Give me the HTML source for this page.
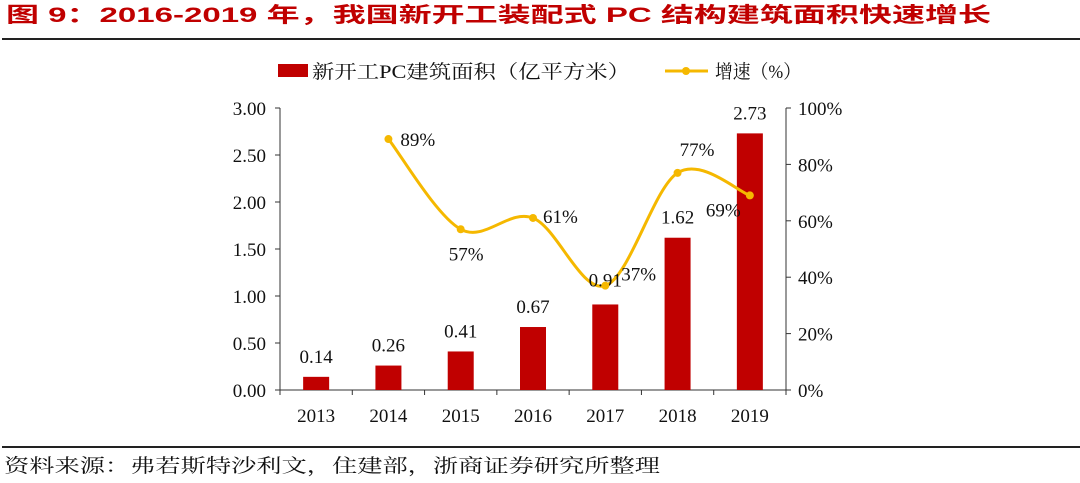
<!DOCTYPE html>
<html><head><meta charset="utf-8"><style>
body{margin:0;width:1080px;height:483px;background:#fff;overflow:hidden;}
svg{display:block}
</style></head><body>
<svg id="c" width="1080" height="483">
<text x="6" y="22" textLength="985" lengthAdjust="spacingAndGlyphs" font-family="Liberation Sans, Noto Sans CJK SC, sans-serif" font-weight="bold" font-size="21" fill="#c00000">图 9：2016-2019 年，我国新开工装配式 PC 结构建筑面积快速增长</text>
<line x1="2" y1="39" x2="1080" y2="39" stroke="#222" stroke-width="2"/>
<rect x="278" y="64" width="30" height="13" fill="#c00000"/>
<text x="312" y="78" textLength="318" lengthAdjust="spacingAndGlyphs" font-family="Liberation Serif, Noto Serif CJK SC, serif" font-size="19" fill="#111">新开工PC建筑面积（亿平方米）</text>
<line x1="665" y1="71" x2="708" y2="71" stroke="#f5b800" stroke-width="3"/>
<circle cx="686" cy="71" r="4" fill="#f5b800"/>
<text x="715" y="78" textLength="86" lengthAdjust="spacingAndGlyphs" font-family="Liberation Serif, Noto Serif CJK SC, serif" font-size="19" fill="#111">增速（%）</text>
<line x1="2" y1="447" x2="1080" y2="447" stroke="#222" stroke-width="2"/>
<text x="4" y="472" textLength="656" lengthAdjust="spacingAndGlyphs" font-family="Liberation Serif, Noto Serif CJK SC, serif" font-size="19" fill="#111">资料来源：弗若斯特沙利文，住建部，浙商证券研究所整理</text>
<g id="plot"></g>
</svg>
<script>
const years=["2013","2014","2015","2016","2017","2018","2019"];
const area=[0.14,0.26,0.41,0.67,0.91,1.62,2.73];
const areaLabels=["0.14","0.26","0.41","0.67","0.91","1.62","2.73"];
const growth=[null,89,57,61,37,77,69];
const leftTicks=[0,0.5,1,1.5,2,2.5,3];
const rightTicks=[0,20,40,60,80,100];
const NS="http://www.w3.org/2000/svg";
const g=document.getElementById('plot');
const X0=280,X1=786,Y0=390,YT=108;
const bw=(X1-X0)/years.length;
const xc=i=>X0+bw*(i+0.5);
const yl=v=>Y0-(v/3)*(Y0-YT);
const yr=v=>Y0-(v/100)*(Y0-YT);
function el(t,a,txt){const e=document.createElementNS(NS,t);for(const k in a)e.setAttribute(k,a[k]);if(txt!=null)e.textContent=txt;g.appendChild(e);return e;}
const F="Liberation Serif, Noto Serif CJK SC, serif";
let e;
e=el('line',{x1:X0,y1:YT,x2:X0,y2:Y0,stroke:'#333'});


e=el('line',{x1:X1,y1:YT,x2:X1,y2:Y0,stroke:'#333'});


e=el('line',{x1:X0,y1:Y0,x2:X1,y2:Y0,stroke:'#333'});


leftTicks.forEach(v=>{const y=yl(v);
 el('line',{x1:X0-5,y1:y,x2:X0,y2:y,stroke:'#333'});
 e=el('text',{x:X0-14,y:y+7,'text-anchor':'end','font-family':F,'font-size':19,fill:'#111'},v.toFixed(2));
 
 });
rightTicks.forEach(v=>{const y=yr(v);
 el('line',{x1:X1,y1:y,x2:X1+5,y2:y,stroke:'#333'});
 e=el('text',{x:X1+12,y:y+7,'font-family':F,'font-size':19,fill:'#111'},v+'%');
 
 });
for(let i=0;i<=years.length;i++){const x=X0+bw*i;el('line',{x1:x,y1:Y0,x2:x,y2:Y0+5,stroke:'#333'});}
const pts=[];growth.forEach((v,i)=>{if(v!=null)pts.push([xc(i),yr(v)]);});
let d='M'+pts[0][0]+','+pts[0][1];
for(let i=0;i<pts.length-1;i++){const p0=pts[i-1]||pts[i],p1=pts[i],p2=pts[i+1],p3=pts[i+2]||p2;
 const c1=[p1[0]+(p2[0]-p0[0])/6,p1[1]+(p2[1]-p0[1])/6],c2=[p2[0]-(p3[0]-p1[0])/6,p2[1]-(p3[1]-p1[1])/6];
 d+=` C${c1[0]},${c1[1]} ${c2[0]},${c2[1]} ${p2[0]},${p2[1]}`;}
years.forEach((yv,i)=>{
 e=el('text',{x:xc(i),y:Y0+32,'text-anchor':'middle','font-family':F,'font-size':19,fill:'#111'},yv);
 
 
 const top=yl(area[i]);
 e=el('rect',{x:xc(i)-13,y:top,width:26,height:Y0-top,fill:'#c00000'});
 
 
});
e=el('path',{d:d,fill:'none',stroke:'#f5b800','stroke-width':3});


years.forEach((yv,i)=>{
 const top=yl(area[i]);
 e=el('text',{x:xc(i),y:top-14+(i===4?-4:0),'text-anchor':'middle','font-family':F,'font-size':19,fill:'#111'},areaLabels[i]);
 
 
});
const off=[[12,0],[-12,24],[10,-2],[16,-12],[2,-24],[-44,14]];
let k=0;
growth.forEach((v,i)=>{if(v==null)return;
 e=el('circle',{cx:xc(i),cy:yr(v),r:4,fill:'#f5b800'});
 
 
 const o=off[k++];
 e=el('text',{x:xc(i)+o[0],y:yr(v)+o[1]+7,'font-family':F,'font-size':19,fill:'#111'},v+'%');
 
 
});
</script>
</body></html>
